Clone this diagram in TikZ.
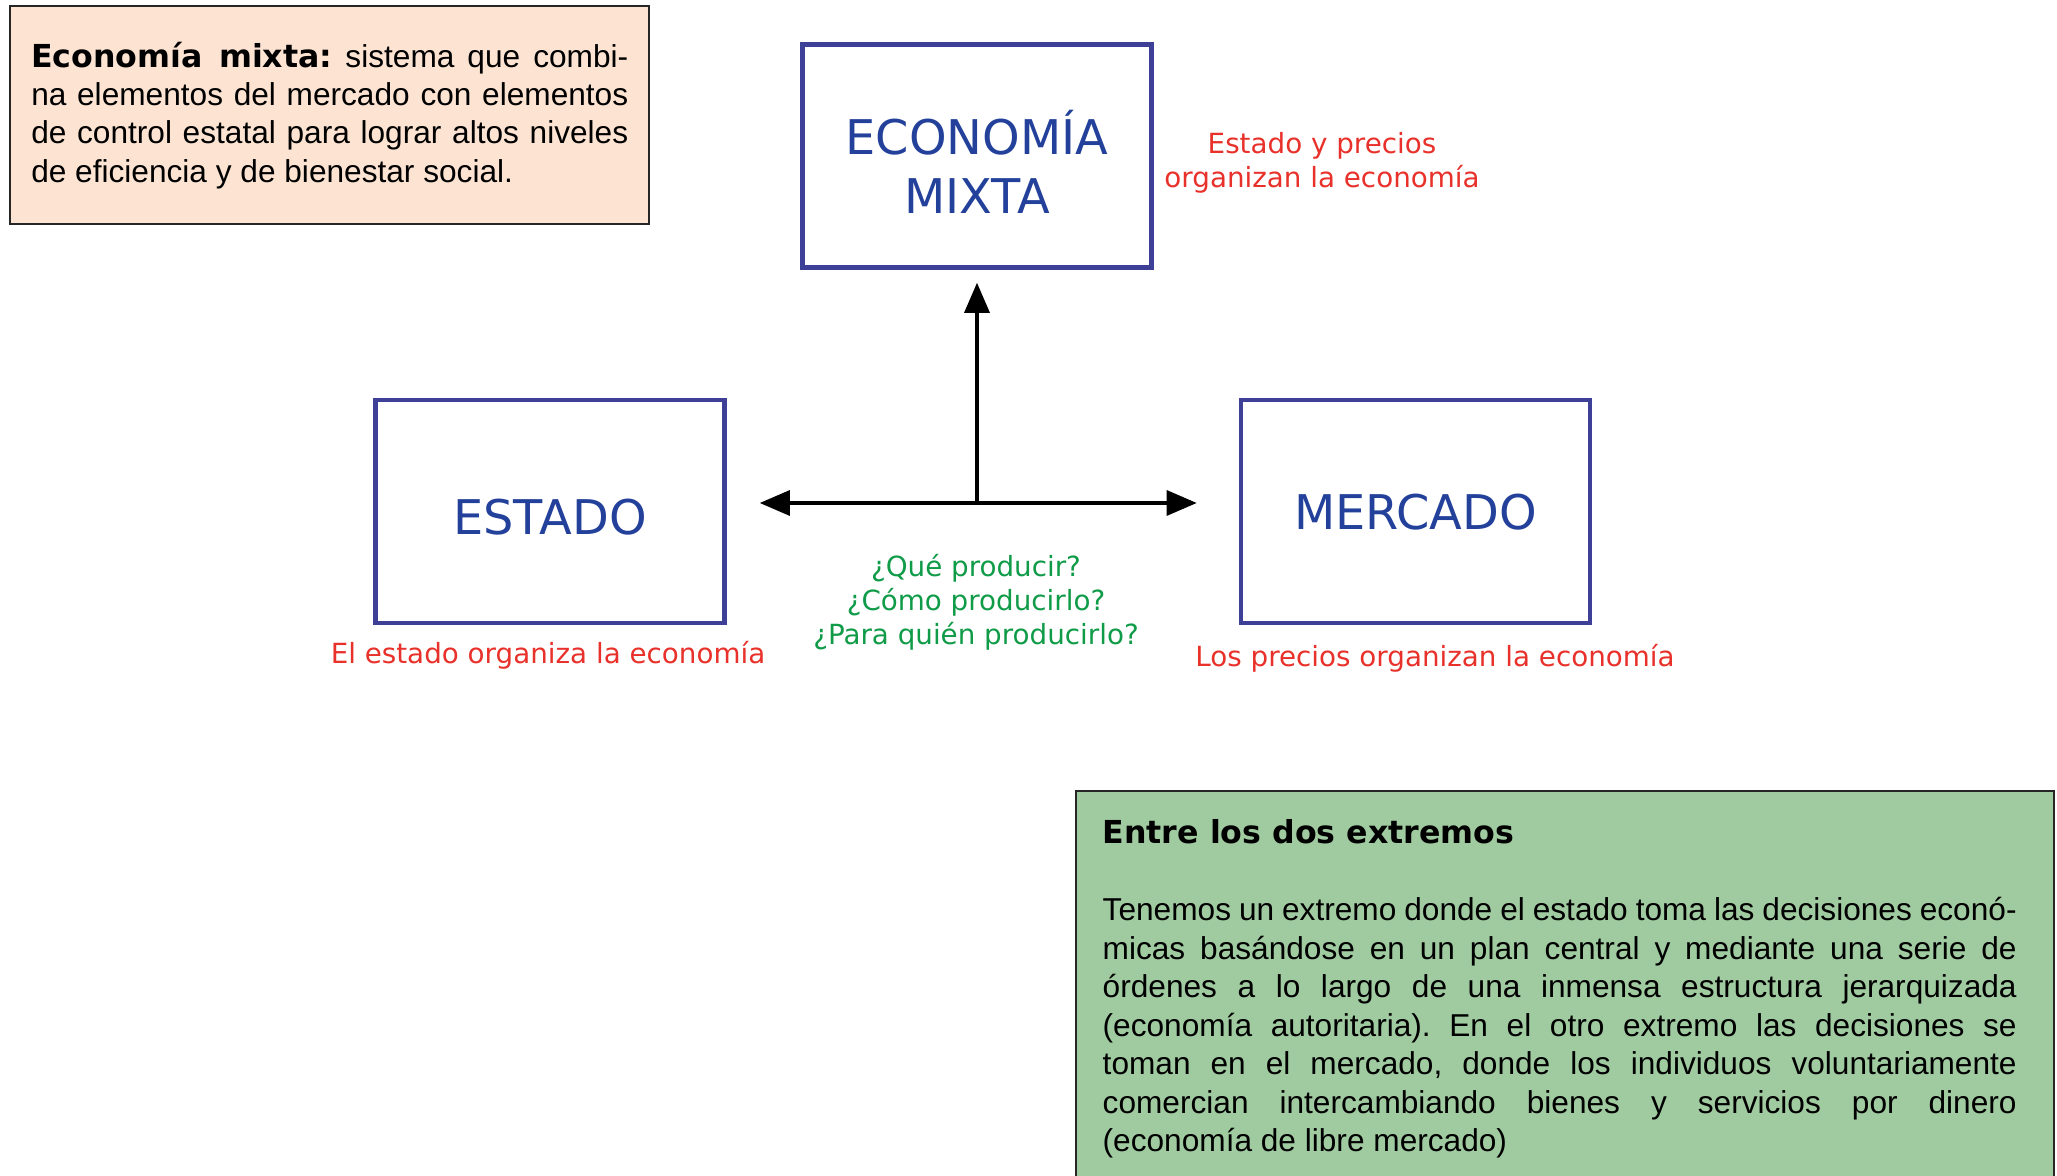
\documentclass[tikz,border=0pt]{standalone}
\usepackage{fontspec}
\setmainfont{Liberation Sans}
\newfontfamily\verd{DejaVu Sans}
\usetikzlibrary{arrows.meta}
\definecolor{boxblue}{RGB}{62,64,152}
\definecolor{txtblue}{RGB}{35,64,154}
\definecolor{labred}{RGB}{232,49,42}
\definecolor{qgreen}{RGB}{16,155,72}
\definecolor{peach}{RGB}{253,228,210}
\definecolor{sage}{RGB}{160,202,160}
\frenchspacing
\begin{document}
\begin{tikzpicture}[>={Triangle[length=.3cm,width=.25cm]},
  box/.style={draw=boxblue,line width=1.3pt,minimum width=3.49cm,minimum height=2.23cm,text=txtblue,align=center,font=\verd\fontsize{13.6}{16.8}\selectfont},
  lab/.style={text=labred,align=center,font=\verd\fontsize{7.9}{9.7}\selectfont},
  txt/.style={align=justify,font=\fontsize{9}{10.9}\selectfont}]
\useasboundingbox (0,0) rectangle (20.57,-11.76);

\node[txt,draw=black!85,line width=.6pt,fill=peach,anchor=north west,text width=5.97cm,inner xsep=.21cm,minimum height=2.18cm] (defn) at (.092,-.052)
{{\verd\bfseries Economía mixta:} sistema que combi-\linebreak na elementos del mercado con elementos\linebreak de control estatal para lograr altos niveles\linebreak de eficiencia y de bienestar social.};

\node[box,text height=32.8pt,text depth=0pt] (mixta) at (9.77,-1.56) {ECONOMÍA\\MIXTA};
\node[box,text height=13.3pt,text depth=0pt] (estado) at (5.5,-5.115) {ESTADO};
\node[box] (mercado) at (14.155,-5.117) {MERCADO};

\node[lab] (lmixta) at (13.22,-1.626) {Estado y precios\\organizan la economía};
\node[lab] (lestado) at (5.48,-6.55) {El estado organiza la economía};
\node[lab] (lmercado) at (14.35,-6.586) {Los precios organizan la economía};
\node[lab,text=qgreen] (preg) at (9.76,-6.02) {¿Qué producir?\\¿Cómo producirlo?\\¿Para quién producirlo?};

\coordinate (c) at (9.77,-5.03);
\draw[line width=.9pt,->,shorten >=.13cm] (c) -- (mixta);
\draw[line width=.9pt,<->,shorten <=.33cm,shorten >=.42cm] (c -| estado.east) -- (c -| mercado.west);

\node[fill=sage,anchor=north west,minimum width=9.772cm,minimum height=3.87cm,inner sep=0] (ext) at (10.758,-7.91) {};
\draw[line width=.6pt,black!85] (ext.south west) -- (ext.north west) -- (ext.north east) -- (ext.south east);
\node[anchor=base west,inner sep=0,font=\verd\bfseries\fontsize{9}{11}\selectfont] (ttl) at (11.02,-8.44) {Entre los dos extremos};
\node[txt,anchor=north west,text width=9.14cm,inner sep=0,font=\fontsize{9}{10.95}\selectfont] (body) at (11.02,-8.97)
{Tenemos un extremo donde el estado toma las decisiones econó-\linebreak micas basándose en un plan central y mediante una serie de\linebreak órdenes a lo largo de una inmensa estructura jerarquizada\linebreak (economía autoritaria). En el otro extremo las decisiones se\linebreak toman en el mercado, donde los individuos voluntariamente\linebreak comercian intercambiando bienes y servicios por dinero\linebreak (economía de libre mercado)};
\end{tikzpicture}
\end{document}
